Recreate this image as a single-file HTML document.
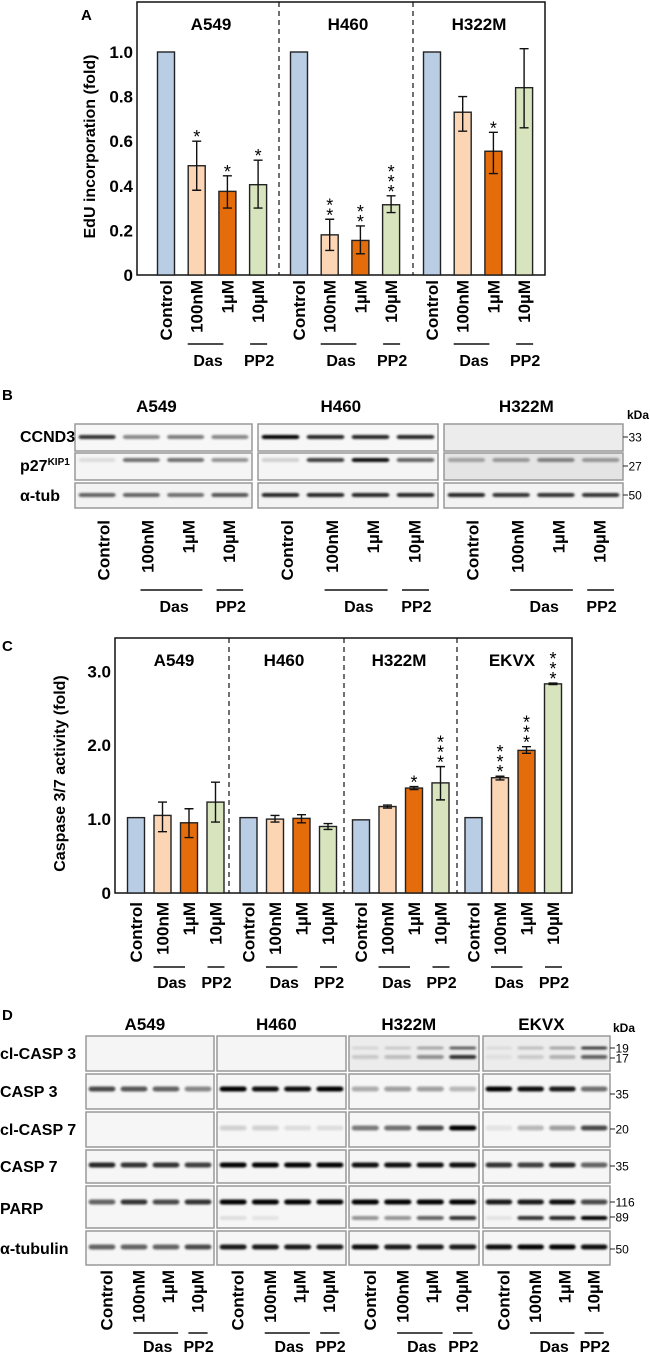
<!DOCTYPE html>
<html><head><meta charset="utf-8"><style>
html,body{margin:0;padding:0;background:#fff}
svg{display:block;font-family:"Liberation Sans",sans-serif;font-weight:bold}
</style></head><body>
<svg id="fig" width="650" height="1355" viewBox="0 0 650 1355" xmlns="http://www.w3.org/2000/svg">
<defs><filter id="blur" x="-20%" y="-100%" width="140%" height="300%"><feGaussianBlur stdDeviation="1.1"/></filter></defs>
</svg>
<script>
// ---------- Panel A data ----------
const aGroups=['A549','H460','H322M'];
const aLanes=['Control','100nM','1\u00b5M','10\u00b5M'];
const aValues=[1,0.49,0.375,0.405, 1,0.18,0.155,0.315, 1,0.73,0.555,0.84];
const aLow=[null,0.38,0.30,0.30, null,0.11,0.095,0.28, null,0.645,0.455,0.66];
const aHigh=[null,0.60,0.445,0.515, null,0.25,0.22,0.355, null,0.80,0.64,1.015];
const aStars=['','*','*','*','','**','**','***','','','*',''];
const aTicks=[0,0.2,0.4,0.6,0.8,1.0];
const aTickLabels=['0','0.2','0.4','0.6','0.8','1.0'];
// ---------- Panel C data ----------
const cGroups=['A549','H460','H322M','EKVX'];
const cValues=[1.02,1.05,0.95,1.23, 1.02,1.0,1.01,0.90, 0.99,1.17,1.42,1.49, 1.02,1.56,1.93,2.83];
const cLow=[null,0.83,0.75,0.96, null,0.96,0.95,0.86, null,1.15,1.40,1.26, null,1.53,1.89,2.82];
const cHigh=[null,1.23,1.14,1.50, null,1.05,1.06,0.94, null,1.19,1.44,1.71, null,1.58,1.98,2.84];
const cStars=['','','','', '','','','', '','','*','***', '','***','***','***'];
const cTicks=[0,1,2,3];
const cTickLabels=['0','1.0','2.0','3.0'];

const colors=['#b9cde5','#fcd5b5','#e46c0a','#d7e4bd'];
const svg=document.getElementById('fig');
const NS='http://www.w3.org/2000/svg';
function mk(tag,attrs,parent){const e=document.createElementNS(NS,tag);for(const k in attrs)e.setAttribute(k,attrs[k]);(parent||svg).appendChild(e);return e;}
function txt(s,attrs){const e=mk('text',attrs);e.textContent=s;return e;}

[['A',81,20],['B',2,400],['C',2,651],['D',2,1020]].forEach(p=>{
 const t=txt(p[0],{x:p[1],y:p[2],'font-size':15});
 
 
});

function barChart(o){
 const {values,low,high,stars,groups,ticks,tickLabels,xOf,yOf,box,dashes,title,titleX,groupTitleXs,groupTitleY,labelTop,lineY,treatY,prefix,bw}=o;
 const frame=mk('rect',{x:box[0],y:box[1],width:box[2]-box[0],height:box[3]-box[1],fill:'none',stroke:'#111','stroke-width':1.5});
 
 
 dashes.forEach((dx,i)=>{
  const l=mk('line',{x1:dx,x2:dx,y1:box[1],y2:box[3],stroke:'#111','stroke-width':1.2,'stroke-dasharray':'5,4'});
  
  
 });
 ticks.forEach((v,i)=>{
  const t=txt(tickLabels[i],{x:box[0]-4,y:yOf(v)+6,'font-size':17,'text-anchor':'end'});
  
  
 });
 const yt=txt(title,{x:0,y:0,'font-size':16,'text-anchor':'middle',transform:`translate(${titleX},${(box[1]+box[3])/2+8}) rotate(-90)`});
 
 
 groups.forEach((g,gi)=>{
  const t=txt(g,{x:groupTitleXs[gi],y:groupTitleY,'font-size':17,'text-anchor':'middle'});
  
  
  for(let j=0;j<4;j++){
   const i=gi*4+j, cx=xOf(gi,j), v=values[i];
   const r=mk('rect',{x:cx-bw/2,y:yOf(v),width:bw,height:yOf(0)-yOf(v),fill:colors[j],stroke:'#222','stroke-width':1.4});
   
   
   let topY=yOf(v);
   if(low[i]!=null){
    const e=mk('path',{d:`M${cx},${yOf(low[i])}V${yOf(high[i])}M${cx-4.5},${yOf(low[i])}H${cx+4.5}M${cx-4.5},${yOf(high[i])}H${cx+4.5}`,stroke:'#111','stroke-width':1.4,fill:'none'});
    
    
    topY=yOf(high[i]);
   }
   for(let k=0;k<stars[i].length;k++){
    const s=txt('*',{x:cx,y:topY+2-(stars[i].length-1-k)*10,'font-size':18,'text-anchor':'middle','font-weight':'normal'});
    
    
   }
   const lb=txt(aLanes[j],{x:0,y:0,'font-size':17,'text-anchor':'end',transform:`translate(${cx+6},${labelTop}) rotate(-90)`});
   
   
  }
  const x1=xOf(gi,1),x2=xOf(gi,2),x3=xOf(gi,3);
  const dl=mk('line',{x1:x1-9,x2:x2-4,y1:lineY,y2:lineY,stroke:'#111','stroke-width':1.5});
  
  
  const pl=mk('line',{x1:x3-8,x2:x3+9,y1:lineY,y2:lineY,stroke:'#111','stroke-width':1.5});
  
  
  const dt=txt('Das',{x:(x1+x2)/2-4,y:treatY,'font-size':16,'text-anchor':'middle'});
  
  
  const pt=txt('PP2',{x:x3+1,y:treatY,'font-size':16,'text-anchor':'middle'});
  
  
 });
}

barChart({values:aValues,low:aLow,high:aHigh,stars:aStars,groups:aGroups,ticks:aTicks,tickLabels:aTickLabels,
 xOf:(g,j)=>166+g*133+j*30.7, yOf:v=>275-223*v, box:[137,2,545,275], dashes:[279,413],
 title:'EdU incorporation (fold)', titleX:95, groupTitleXs:[211,348,479], groupTitleY:30,
 labelTop:280, lineY:344, treatY:366, prefix:'a', bw:17});

barChart({values:cValues,low:cLow,high:cHigh,stars:cStars,groups:cGroups,ticks:cTicks,tickLabels:cTickLabels,
 xOf:(g,j)=>136+g*112.5+j*26.5, yOf:v=>893-73.9*v, box:[115,638,572,893], dashes:[229,344,457],
 title:'Caspase 3/7 activity (fold)', titleX:65, groupTitleXs:[174,284,399,512], groupTitleY:666,
 labelTop:902, lineY:967, treatY:988, prefix:'c', bw:17});

const laneFrac=[0.16,0.41,0.64,0.87];
function blotPanel(name,x0,x1,rows,prefix){
 const w=x1-x0;
 rows.forEach(r=>{
  const bg=mk('rect',{x:x0,y:r.y0,width:w,height:r.y1-r.y0,fill:r.bg||'#f6f6f6',stroke:'#999','stroke-width':1.5});
  
  
  (r.bands||[]).forEach(b=>{
   b.vals.forEach((v,i)=>{
    if(v<=0)return;
    const cx=x0+w*(i+0.5)/4;
    const e=mk('rect',{x:cx-w*0.105,y:b.y-b.t/2,width:w*0.21,height:b.t,rx:3,fill:'#000','fill-opacity':v,filter:'url(#blur)'});
    
    
   });
  });
 });
}
function blotLabels(prefix,panels,labelTop,lineY,treatY,titleY){
 panels.forEach(p=>{
  const w=p[2]-p[1];
  const t=txt(p[0],{x:p[1]+w*0.46,y:titleY,'font-size':17,'text-anchor':'middle'});
  
  
  laneFrac.forEach((f,j)=>{
   const lb=txt(aLanes[j],{x:0,y:0,'font-size':17,'text-anchor':'end',transform:`translate(${p[1]+w*f+6},${labelTop}) rotate(-90)`});
   
   
  });
  const dl=mk('line',{x1:p[1]+w*0.37,x2:p[1]+w*0.72,y1:lineY,y2:lineY,stroke:'#111','stroke-width':1.5});
  
  
  const pl=mk('line',{x1:p[1]+w*0.8,x2:p[1]+w*0.95,y1:lineY,y2:lineY,stroke:'#111','stroke-width':1.5});
  
  
  const dt=txt('Das',{x:p[1]+w*0.56,y:treatY,'font-size':16,'text-anchor':'middle'});
  
  
  const pt=txt('PP2',{x:p[1]+w*0.88,y:treatY,'font-size':16,'text-anchor':'middle'});
  
  
 });
}
function marker(label,x,y){
 const l=mk('line',{x1:x,x2:x+5,y1:y,y2:y,stroke:'#222','stroke-width':1});
 
 
 const t=txt(label,{x:x+5.5,y:y+4.5,'font-size':12,'font-weight':'normal'});
 
 
}

const bPanels=[['A549',75,252],['H460',258,438],['H322M',444,623]];
const bCCND3=[[.8,.45,.5,.45],[1,.85,.85,.85],[0,0,0,0]];
const bP27=[[.1,.55,.55,.4],[.15,.75,.95,.6],[.3,.35,.45,.35]];
const bTub=[[.6,.6,.55,.65],[.85,.85,.85,.85],[.85,.8,.8,.8]];
bPanels.forEach((p,i)=>{
 blotPanel(p[0].toLowerCase(),p[1],p[2],[
  {id:'ccnd3',y0:424,y1:451,bg:i==2?'#ececec':'#f7f7f7',bands:[{y:437,t:4,vals:bCCND3[i]}]},
  {id:'p27',y0:453,y1:480,bg:i==2?'#e4e4e4':'#f5f5f5',bands:[{y:460,t:4,vals:bP27[i]}]},
  {id:'atub',y0:483,y1:508,bg:'#f3f3f3',bands:[{y:495,t:4,vals:bTub[i]}]}],'b');
});
blotLabels('b',bPanels,520,590,612,412);
[['CCND3',442],['α-tub',501]].forEach(r=>{
 const t=txt(r[0],{x:20,y:r[1],'font-size':16});
 
 
});
(function(){const t=txt('p27',{x:20,y:471,'font-size':16});
 
 
 const s=mk('tspan',{'font-size':10,dy:-6});s.textContent='KIP1';t.appendChild(s);})();
(function(){const t=txt('kDa',{x:627,y:419,'font-size':12});
 
 })();
marker('33',623,437);marker('27',623,466);marker('50',623,495);

const dPanels=[['A549',86,214],['H460',217,346],['H322M',349,479],['EKVX',483,610]];
const dClc3a=[[0,0,0,0],[0,0,0,0],[.1,.15,.3,.6],[.08,.2,.3,.75]];
const dClc3b=[[0,0,0,0],[0,0,0,0],[.15,.2,.4,.8],[.06,.15,.25,.6]];
const dCasp3=[[.7,.65,.6,.45],[1,.95,.95,1],[.3,.35,.35,.25],[1,.95,.9,.55]];
const dClc7=[[0,0,0,0],[.15,.15,.1,.1],[.5,.55,.7,1],[.08,.25,.35,.7]];
const dCasp7=[[.85,.8,.8,.75],[1,1,1,1],[.95,.95,.95,.95],[.8,.75,.85,.6]];
const dParp=[[.6,.8,.7,.8],[1,1,1,1],[1,1,1,1],[.9,.9,.95,.7]];
const dParp89=[[0,0,0,0],[.1,.08,0,0],[.4,.4,.6,.8],[.08,.8,.85,1]];
const dTub=[[.6,.6,.6,.7],[.9,.9,.9,.9],[.95,.9,.9,.9],[.95,1,1,.95]];
dPanels.forEach((p,i)=>{
 blotPanel(p[0].toLowerCase(),p[1],p[2],[
  {id:'cl-casp3',y0:1036,y1:1071,bg:i>=2?'#ececec':'#f5f5f5',bands:[{y:1048,t:3,vals:dClc3a[i]},{y:1057,t:4,vals:dClc3b[i]}]},
  {id:'casp3',y0:1074,y1:1109,bands:[{y:1089,t:5,vals:dCasp3[i]}]},
  {id:'cl-casp7',y0:1112,y1:1147,bands:[{y:1128,t:5,vals:dClc7[i]}]},
  {id:'casp7',y0:1150,y1:1183,bands:[{y:1165,t:5,vals:dCasp7[i]}]},
  {id:'parp',y0:1186,y1:1228,bands:[{y:1202,t:5,vals:dParp[i]},{y:1218,t:4,vals:dParp89[i]}]},
  {id:'atub',y0:1231,y1:1265,bands:[{y:1247,t:5,vals:dTub[i]}]}],'d');
});
blotLabels('d',dPanels,1270,1333,1352,1030);
[['cl-CASP 3',1059],['CASP 3',1097],['cl-CASP 7',1135],['CASP 7',1172],['PARP',1214],['α-tubulin',1254]].forEach(r=>{
 const t=txt(r[0],{x:0,y:r[1],'font-size':16});
 
 
});
(function(){const t=txt('kDa',{x:613,y:1032,'font-size':12});
 
 })();
marker('19',610,1048);marker('17',610,1058);marker('35',610,1094);marker('20',610,1129);
marker('35',610,1166);marker('116',610,1202);marker('89',610,1217);marker('50',610,1249);
</script>
</body></html>
